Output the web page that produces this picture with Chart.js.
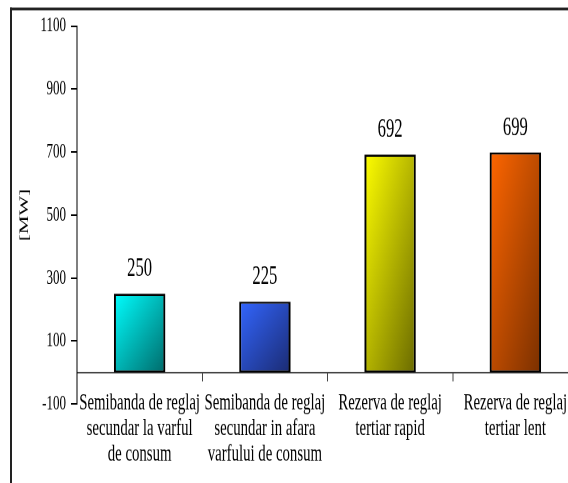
<!DOCTYPE html>
<html>
<head>
<meta charset="utf-8">
<script src="https://cdn.jsdelivr.net/npm/chart.js@4.4.1/dist/chart.umd.min.js"></script>
<style>
    html, body { margin: 0; padding: 0; background: #fff; overflow: hidden; width: 568px; height: 483px; }
    /* imaginea originala e intinsa pe verticala: desenam la 580x302 si intindem la 580x483 */
    #grafic-rezerve { display: block; width: 580px !important; height: 483px !important; }
</style>
</head>
<body>
<canvas id="grafic-rezerve" width="580" height="302"></canvas>
<script>
const categorii = [
    ['Semibanda de reglaj', 'secundar la varful', 'de consum'],
    ['Semibanda de reglaj', 'secundar in afara', 'varfului de consum'],
    ['Rezerva de reglaj', 'tertiar rapid'],
    ['Rezerva de reglaj', 'tertiar lent'],
];
const valori = [250, 225, 692, 699];
const axaMin = -100;
const axaMax = 1100;
const axaPas = 200;
const titluAxa = '[MW]';

const culoriDeschise = ['#00ffff', '#3366ff', '#ffff00', '#ff6600'];
const culoriInchise = ['#006a6a', '#1b2b72', '#6a6a00', '#7a3000'];

const FONT = 'Liberation Serif';
const LATIME_BARA = 0.41;

//---------------------------- gradient diagonal ca in Excel ---------------
function gradientBara(context) {
    const chart = context.chart;
    if (context.type !== 'data' || !chart.chartArea) return culoriDeschise[0];
    const i = context.dataIndex;
    const x = chart.scales.x;
    const y = chart.scales.y;
    const latime = (chart.chartArea.width / valori.length) * LATIME_BARA;
    const stanga = x.getPixelForValue(i) - latime / 2;
    const sus = y.getPixelForValue(valori[i]);
    const jos = y.getPixelForValue(0);
    const ax = 1 / (2 * latime);
    const ay = 1 / (2 * (jos - sus));
    const n = ax * ax + ay * ay;
    const g = chart.ctx.createLinearGradient(stanga, sus, stanga + ax / n, sus + ay / n);
    g.addColorStop(0, culoriDeschise[i]);
    g.addColorStop(1, culoriInchise[i]);
    return g;
}

//---------------------------- rama si etichete ---------------
const rama = {
    id: 'rama',
    beforeDraw(chart) {
        const ctx = chart.ctx;
        ctx.save();
        ctx.fillStyle = '#fff';
        ctx.fillRect(0, 0, chart.width, chart.height);
        ctx.strokeStyle = '#222';
        ctx.lineWidth = 2;
        ctx.beginPath();
        ctx.moveTo(11, 400);
        ctx.lineTo(11, 4.8);
        ctx.stroke();
        ctx.lineWidth = 1.7;
        ctx.beginPath();
        ctx.moveTo(10, 5.6);
        ctx.lineTo(700, 5.6);
        ctx.stroke();
        ctx.restore();
    }
};

const eticheteValori = {
    id: 'eticheteValori',
    afterDatasetsDraw(chart) {
        const ctx = chart.ctx;
        ctx.save();
        ctx.font = '16.6px "' + FONT + '"';
        ctx.fillStyle = '#000';
        ctx.textAlign = 'center';
        ctx.textBaseline = 'alphabetic';
        chart.getDatasetMeta(0).data.forEach(function (bara, i) {
            ctx.fillText(String(valori[i]), bara.x, bara.y - 11);
        });
        ctx.restore();
    }
};

const config = {
    type: 'bar',
    data: {
        labels: categorii,
        datasets: [{
            data: valori,
            backgroundColor: gradientBara,
            borderColor: '#000',
            borderWidth: { top: 1.3, bottom: 1.3, left: 2, right: 2 },
            borderSkipped: false,
            barPercentage: LATIME_BARA,
            categoryPercentage: 1,
        }]
    },
    options: {
        responsive: false,
        animation: false,
        devicePixelRatio: 2,
        layout: { padding: { left: 0, top: 16.3, right: 2, bottom: 49.4 } },
        plugins: {
            legend: { display: false },
            tooltip: { enabled: false }
        },
        scales: {
            x: {
                position: { y: 0 },
                offset: true,
                grid: { offset: true, drawOnChartArea: false, tickLength: 5, color: '#444' },
                border: { color: '#444', width: 1 },
                ticks: {
                    color: '#000',
                    padding: 6,
                    maxRotation: 0,
                    autoSkip: false,
                    font: { family: FONT, size: 14.8, lineHeight: 1.08 }
                }
            },
            y: {
                min: axaMin,
                max: axaMax,
                ticks: {
                    stepSize: axaPas,
                    color: '#000',
                    padding: 5,
                    font: { family: FONT, size: 13 },
                    callback: function (v) { return String(v); }
                },
                grid: { drawOnChartArea: false, tickLength: 6, color: '#000' },
                border: { color: '#000', width: 1 },
                title: {
                    display: true,
                    text: titluAxa,
                    color: '#000',
                    font: { family: FONT, size: 13 },
                    padding: { top: 17, bottom: 0 }
                },
                afterFit: function (scale) { scale.width = 77; }
            }
        }
    },
    plugins: [rama, eticheteValori]
};

const graficRezerve = new Chart(document.getElementById('grafic-rezerve'), config);
</script>
</body>
</html>
